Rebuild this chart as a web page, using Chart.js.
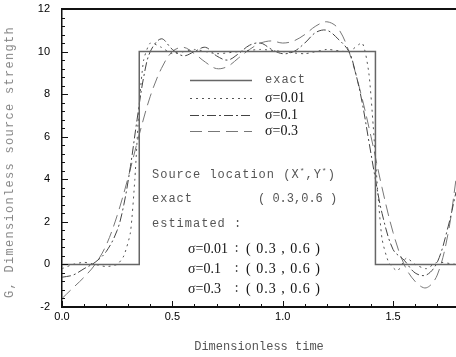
<!DOCTYPE html>
<html>
<head>
<meta charset="utf-8">
<script src="https://cdn.jsdelivr.net/npm/chart.js@4.4.1/dist/chart.umd.min.js"></script>
<style>
  html, body { margin: 0; padding: 0; background: #fff; overflow: hidden; }
  #wrap { position: relative; width: 456px; height: 357px; }
  canvas { position: absolute; left: 0; top: 0; }
  .t { position: absolute; white-space: pre; line-height: 1; transform: translateY(-50%); }
  .mono { font-family: "Liberation Mono", "DejaVu Sans Mono", monospace; font-size: 12px; letter-spacing: 1px; color: #555; }
  .serif { font-family: "Liberation Serif", "DejaVu Serif", serif; font-size: 14px; color: #111; }
  .mono sup { font-size: 8px; vertical-align: 5px; }
  #ytitle { position: absolute; left: 10px; top: 162px; white-space: pre; line-height: 1;
            transform: translate(-50%, -50%) rotate(-90deg);
            font-family: "Liberation Mono", monospace; font-size: 12px; letter-spacing: 1.3px; color: #888; }
</style>
</head>
<body>
<div id="wrap">
  <canvas id="chart" width="456" height="357"></canvas>
  <div id="ytitle">G, Dimensionless source strength</div>

  <!-- legend labels -->
  <div class="t mono" style="left:265px;top:80px">exact</div>
  <div class="t serif" style="left:265px;top:98px">σ=0.01</div>
  <div class="t serif" style="left:265px;top:115px">σ=0.1</div>
  <div class="t serif" style="left:265px;top:131px">σ=0.3</div>

  <!-- source location note -->
  <div class="t mono" style="left:152px;top:174px">Source location (X<sup>*</sup>,Y<sup>*</sup>)</div>
  <div class="t mono" style="left:152px;top:199px">exact</div>
  <div class="t mono" style="left:258px;top:199px;letter-spacing:0">( 0.3,0.6 )</div>
  <div class="t mono" style="left:152px;top:224px">estimated :</div>
  <div class="t serif" style="left:188px;top:249px">σ=0.01</div>
  <div class="t mono" style="left:233px;top:249px">:</div>
  <div class="t serif" style="left:246px;top:249px;letter-spacing:1px">( 0.3 , 0.6 )</div>
  <div class="t serif" style="left:188px;top:269px">σ=0.1</div>
  <div class="t mono" style="left:233px;top:269px">:</div>
  <div class="t serif" style="left:246px;top:269px;letter-spacing:1px">( 0.3 , 0.6 )</div>
  <div class="t serif" style="left:188px;top:289px">σ=0.3</div>
  <div class="t mono" style="left:233px;top:289px">:</div>
  <div class="t serif" style="left:246px;top:289px;letter-spacing:1px">( 0.3 , 0.6 )</div>
</div>

<script>
// exact source strength (step)
const exactT = [0, 0.35, 0.35, 1.42, 1.42, 1.785];
const exactG = [0, 0, 10, 10, 0, 0];

// estimated, sigma = 0.01
const t001 = [0, 0.05, 0.1, 0.15, 0.2, 0.25, 0.28, 0.31, 0.33, 0.35, 0.37, 0.4, 0.45, 0.5, 0.6, 0.7, 0.8, 0.9,
              1.0, 1.1, 1.2, 1.3, 1.36, 1.39, 1.41, 1.43, 1.45, 1.48, 1.52, 1.56, 1.6, 1.65, 1.7, 1.785];
const g001 = [-0.2, 0.0, 0.1, 0.0, -0.1, 0.0, 0.4, 1.5, 4.0, 7.5, 9.6, 10.4, 10.2, 9.9, 10.1, 9.9, 10.0, 10.1,
              10.0, 9.9, 10.1, 10.0, 10.4, 9.0, 6.5, 3.5, 1.2, 0.1, -0.3, 0.3, 0.0, -0.2, 0.1, 0.0];

// estimated, sigma = 0.1
const t01 = [0, 0.05, 0.1, 0.15, 0.2, 0.25, 0.28, 0.31, 0.34, 0.37, 0.4, 0.45, 0.5, 0.55, 0.6, 0.65, 0.7, 0.75,
             0.8, 0.85, 0.9, 0.95, 1.0, 1.05, 1.1, 1.15, 1.2, 1.25, 1.3, 1.33, 1.36, 1.39, 1.42, 1.45, 1.5,
             1.55, 1.6, 1.65, 1.7, 1.75, 1.785];
const g01 = [-0.6, -0.5, -0.2, 0.1, 0.6, 1.6, 2.8, 4.6, 6.8, 8.8, 10.0, 10.6, 10.1, 9.8, 10.0, 10.2, 9.8, 9.6,
             9.9, 10.3, 10.4, 10.1, 9.9, 10.0, 10.4, 10.9, 11.0, 10.6, 10.0, 9.0, 7.6, 5.8, 4.0, 2.4, 0.7,
             0.2, -0.4, -0.5, 0.1, 1.8, 3.4];

// estimated, sigma = 0.3
const t03 = [0, 0.05, 0.1, 0.15, 0.2, 0.25, 0.3, 0.35, 0.4, 0.45, 0.5, 0.55, 0.6, 0.65, 0.7, 0.75, 0.8, 0.85,
             0.9, 0.95, 1.0, 1.05, 1.1, 1.15, 1.2, 1.25, 1.3, 1.35, 1.4, 1.45, 1.5, 1.55, 1.6, 1.65, 1.7,
             1.75, 1.785];
const g03 = [-1.6, -1.1, -0.6, 0.0, 0.9, 2.3, 4.1, 6.1, 7.9, 9.2, 10.0, 10.2, 9.9, 9.5, 9.2, 9.3, 9.7, 10.1,
             10.4, 10.5, 10.4, 10.5, 10.8, 11.2, 11.4, 11.1, 10.0, 8.2, 6.0, 3.6, 1.5, 0.0, -0.8, -1.1, -0.5,
             1.5, 4.0];

const xTickLabels = ['0.0', '0.5', '1.0', '1.5'];
const yTickLabels = ['-2', '0', '2', '4', '6', '8', '10', '12'];

function pts(ts, gs) {
  return ts.map((t, i) => ({ x: t, y: gs[i] }));
}

const series = [
  { label: 'exact',  data: pts(exactT, exactG), borderColor: '#666', borderWidth: 1.5, borderDash: [], tension: 0 },
  { label: 'σ=0.01', data: pts(t001, g001), borderColor: '#555', borderWidth: 1, borderDash: [2, 4], tension: 0.2 },
  { label: 'σ=0.1',  data: pts(t01, g01),  borderColor: '#444', borderWidth: 1, borderDash: [9, 3, 2, 3], tension: 0.35 },
  { label: 'σ=0.3',  data: pts(t03, g03),  borderColor: '#777', borderWidth: 1, borderDash: [12, 6], tension: 0.35 }
];

const legendRows = [80, 98, 115, 131];

const framePlugin = {
  id: 'frame',
  afterDatasetsDraw(chart) {
    const { ctx, chartArea, scales: { x, y } } = chart;
    const { left, top, bottom } = chartArea;
    ctx.save();
    ctx.strokeStyle = '#111';
    ctx.setLineDash([]);

    // top border
    ctx.lineWidth = 2;
    ctx.beginPath();
    ctx.moveTo(left, top);
    ctx.lineTo(chart.width, top);
    ctx.stroke();

    // inward ticks on x axis
    ctx.lineWidth = 1;
    for (let i = 0; i <= 17; i++) {
      const v = i / 10;
      const px = Math.round(x.getPixelForValue(v)) + 0.5;
      const len = i % 5 === 0 ? 6 : 3;
      ctx.beginPath();
      ctx.moveTo(px, bottom);
      ctx.lineTo(px, bottom - len);
      ctx.stroke();
    }
    // inward ticks on y axis
    for (let i = 0; i <= 35; i++) {
      const v = -2 + i * 0.4;
      const py = Math.round(y.getPixelForValue(v)) + 0.5;
      const len = i % 5 === 0 ? 6 : 3;
      ctx.beginPath();
      ctx.moveTo(left, py);
      ctx.lineTo(left + len, py);
      ctx.stroke();
    }

    // legend samples
    chart.data.datasets.forEach((ds, i) => {
      ctx.strokeStyle = ds.borderColor;
      ctx.lineWidth = ds.borderWidth;
      ctx.setLineDash(ds.borderDash);
      ctx.beginPath();
      ctx.moveTo(190, legendRows[i] + 0.5);
      ctx.lineTo(252, legendRows[i] + 0.5);
      ctx.stroke();
    });
    ctx.restore();
  }
};

new Chart(document.getElementById('chart'), {
  type: 'line',
  data: {
    datasets: series.map(s => ({
      label: s.label,
      data: s.data,
      borderColor: s.borderColor,
      borderWidth: s.borderWidth,
      borderDash: s.borderDash,
      tension: s.tension,
      pointRadius: 0,
      fill: false,
      clip: false
    }))
  },
  options: {
    responsive: false,
    animation: false,
    layout: { padding: { top: 9, right: 0, left: 0, bottom: 0 } },
    plugins: { legend: { display: false }, tooltip: { enabled: false } },
    scales: {
      x: {
        type: 'linear',
        min: 0,
        max: 1.785,
        grid: { display: false, drawTicks: false },
        border: { display: true, color: '#111', width: 2 },
        ticks: {
          stepSize: 0.5,
          includeBounds: false,
          padding: 3,
          color: '#000',
          font: { family: 'Liberation Sans, Arial, sans-serif', size: 11 },
          callback: (v) => xTickLabels[Math.round(v * 2)] ?? ''
        },
        title: {
          display: true,
          text: 'Dimensionless time',
          color: '#555',
          font: { family: 'Liberation Mono, monospace', size: 12 },
          padding: { top: 0, bottom: 3 }
        },
        afterFit: (s) => { s.height = 50; s.paddingLeft = 0; s.paddingRight = 0; }
      },
      y: {
        min: -2,
        max: 12,
        grid: { display: false, drawTicks: false },
        border: { display: true, color: '#111', width: 1.5 },
        ticks: {
          stepSize: 2,
          padding: 12,
          color: '#000',
          font: { family: 'Liberation Sans, Arial, sans-serif', size: 11 },
          callback: (v) => yTickLabels[Math.round((v + 2) / 2)] ?? ''
        },
        afterFit: (s) => { s.width = 62; s.paddingTop = 0; s.paddingBottom = 0; }
      }
    }
  },
  plugins: [framePlugin]
});
</script>
</body>
</html>
